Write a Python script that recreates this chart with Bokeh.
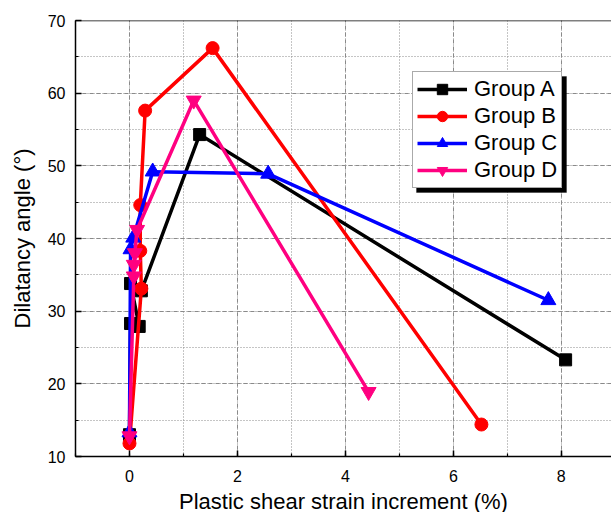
from bokeh.plotting import figure
from bokeh.models import Legend, LegendItem, SingleIntervalTicker, Span, Range1d, BoxAnnotation
from bokeh.embed import file_html
from bokeh.resources import INLINE

# ---- data ----
groups = ["Group A", "Group B", "Group C", "Group D"]
A_x = [0.0, 0.02, 0.18, 0.02, 0.22, 1.30, 8.08]
A_y = [13.0, 28.3, 27.9, 33.8, 32.8, 54.3, 23.3]
B_x = [0.0, 0.22, 0.20, 0.20, 0.29, 1.54, 6.52]
B_y = [11.8, 33.1, 38.3, 44.6, 57.6, 66.2, 14.4]
C_x = [0.0, 0.02, 0.07, 0.43, 2.57, 7.76]
C_y = [13.3, 38.5, 40.1, 49.2, 48.9, 31.5]
D_x = [0.0, 0.08, 0.08, 0.10, 0.14, 1.19, 4.43]
D_y = [12.8, 34.8, 36.4, 38.0, 41.2, 59.0, 18.9]

x_label = "Plastic shear strain increment (%)"
y_label = "Dilatancy angle (°)"
x_lo, x_hi = -1, 8.93
y_lo, y_hi = 10, 70

FONT = "Liberation Sans"
FW, FH = 536, 436

p = figure(width=611, height=512, output_backend="svg", toolbar_location=None,
           x_range=Range1d(x_lo, x_hi), y_range=Range1d(y_lo, y_hi),
           frame_width=FW, frame_height=FH,
           min_border_left=75, min_border_top=20, min_border_right=0, min_border_bottom=0)
p.outline_line_color = None
p.background_fill_color = "white"
p.border_fill_color = "white"

for ax, interval in ((p.xaxis, 2), (p.yaxis, 10)):
    ax.ticker = SingleIntervalTicker(interval=interval, num_minor_ticks=2)
    ax.axis_line_color = "black"
    ax.axis_line_width = 1.5
    ax.major_tick_in = 6
    ax.major_tick_out = 0
    ax.minor_tick_in = 3
    ax.minor_tick_out = 0
    ax.major_tick_line_width = 1.5
    ax.minor_tick_line_width = 1.2
    ax.major_tick_line_color = "black"
    ax.minor_tick_line_color = "black"
    ax.major_label_text_font = FONT
    ax.major_label_text_font_size = "16px"
    ax.major_label_text_color = "black"
    ax.axis_label_text_font = FONT
    ax.axis_label_text_font_size = "22px"
    ax.axis_label_text_font_style = "normal"
    ax.axis_label_text_color = "black"

p.xaxis.axis_label = x_label
p.yaxis.axis_label = y_label
p.xaxis.major_label_standoff = 13
p.xaxis.axis_label_standoff = 4
p.yaxis.major_label_standoff = 10
p.yaxis.axis_label_standoff = 10

for g in (p.xgrid, p.ygrid):
    g.grid_line_color = "#8a8a8a"
    g.grid_line_width = 1
    g.grid_line_dash = "4 3"
    g.minor_grid_line_color = "#8a8a8a"
    g.minor_grid_line_width = 1
    g.minor_grid_line_dash = "1 2"

# top frame line
p.add_layout(Span(location=y_hi, dimension="width", line_color="black", line_width=1.5))

series = [
    (A_x, A_y, "black", "square", 12),
    (B_x, B_y, "#FF0000", "circle", 13),
    (C_x, C_y, "#0000FF", "triangle", 15),
    (D_x, D_y, "#FF0080", "inverted_triangle", 15),
]

items = []
for name, (xs, ys, col, mk, sz) in zip(groups, series):
    ln = p.line(xs, ys, line_color=col, line_width=3.5)
    sc = p.scatter(xs, ys, marker=mk, size=sz, fill_color=col, line_color=col)
    items.append(LegendItem(label=name, renderers=[ln, sc]))

# legend box geometry (frame-relative px, origin bottom-left)
LG_LEFT, LG_BOTTOM, LG_W, LG_H = 337, 268, 150, 116
SH = 4
shadow = BoxAnnotation(left=LG_LEFT + SH, right=LG_LEFT + LG_W + SH,
                       top=LG_BOTTOM + LG_H - SH, bottom=LG_BOTTOM - SH,
                       left_units="screen", right_units="screen",
                       top_units="screen", bottom_units="screen",
                       fill_color="black", fill_alpha=1.0, line_color="black")
p.add_layout(shadow)

lg = Legend(items=items, location=(LG_LEFT, LG_BOTTOM), orientation="vertical")
lg.label_text_font = FONT
lg.label_text_font_size = "22px"
lg.label_text_color = "black"
lg.glyph_width = 50
lg.glyph_height = 26
lg.label_height = 26
lg.label_standoff = 7
lg.spacing = 1
lg.padding = 4
lg.margin = 0
lg.background_fill_alpha = 1.0
lg.background_fill_color = "white"
lg.border_line_color = "#555555"
lg.border_line_width = 1.5
p.add_layout(lg, "center")

open("out.html", "w").write(file_html(p, INLINE))
